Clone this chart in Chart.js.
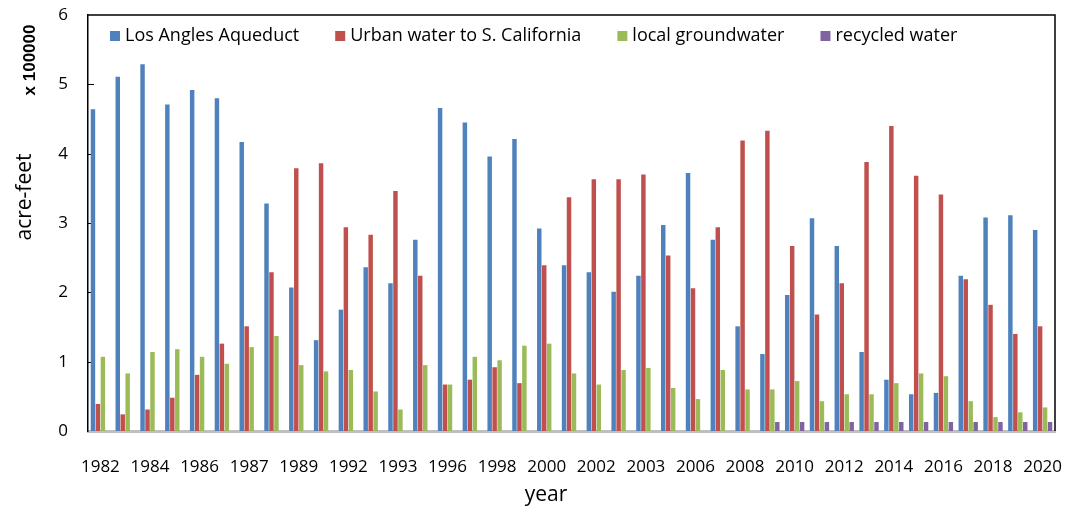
<!DOCTYPE html>
<html>
<head>
<meta charset="utf-8">
<script src="https://cdn.jsdelivr.net/npm/chart.js@4.4.1/dist/chart.umd.min.js"></script>
<style>
  html, body { margin: 0; padding: 0; background: #fff; }
  #wrap { width: 1071px; height: 507px; }
</style>
</head>
<body>
<div id="wrap"><canvas id="water"></canvas></div>
<script>
// every other year label is shown on the axis (as in the original spreadsheet)
const YEARS = [
  "1982", "1983", "1984", "1985", "1986", "1986", "1987", "1988", "1989", "1990",
  "1992", "1992", "1993", "1994", "1996", "1997", "1998", "1999", "2000", "2001",
  "2002", "2002", "2003", "2004", "2006", "2007", "2008", "2009", "2010", "2011",
  "2012", "2013", "2014", "2015", "2016", "2017", "2018", "2019", "2020",
];

const LA_AQUEDUCT = [
  4.64, 5.11, 5.29, 4.71, 4.92, 4.80, 4.17, 3.28, 2.07, 1.31,
  1.75, 2.36, 2.13, 2.76, 4.66, 4.45, 3.96, 4.21, 2.92, 2.39,
  2.29, 2.01, 2.24, 2.97, 3.72, 2.76, 1.51, 1.11, 1.96, 3.07,
  2.67, 1.14, 0.74, 0.53, 0.55, 2.24, 3.08, 3.11, 2.90,
];

const URBAN_SOCAL = [
  0.39, 0.24, 0.31, 0.48, 0.81, 1.26, 1.51, 2.29, 3.79, 3.86,
  2.94, 2.83, 3.46, 2.24, 0.67, 0.74, 0.92, 0.69, 2.39, 3.37,
  3.63, 3.63, 3.70, 2.53, 2.06, 2.94, 4.19, 4.33, 2.67, 1.68,
  2.13, 3.88, 4.40, 3.68, 3.41, 2.19, 1.82, 1.40, 1.51,
];

const GROUNDWATER = [
  1.07, 0.83, 1.14, 1.18, 1.07, 0.97, 1.21, 1.37, 0.95, 0.86,
  0.88, 0.57, 0.31, 0.95, 0.67, 1.07, 1.02, 1.23, 1.26, 0.83,
  0.67, 0.88, 0.91, 0.62, 0.46, 0.88, 0.60, 0.60, 0.72, 0.43,
  0.53, 0.53, 0.69, 0.83, 0.79, 0.43, 0.20, 0.27, 0.34,
];

const RECYCLED = [
  null, null, null, null, null, null, null, null, null, null,
  null, null, null, null, null, null, null, null, null, null,
  null, null, null, null, null, null, null, 0.13, 0.13, 0.13,
  0.13, 0.13, 0.13, 0.13, 0.13, 0.13, 0.13, 0.13, 0.13,
];

const SERIES_NAMES = [
  "Los Angles Aqueduct",
  "Urban water to S. California",
  "local groundwater",
  "recycled water",
];

const SERIES_COLORS = ["#4F81BD", "#C0504D", "#9BBB59", "#8064A2"];

const FONT = "'Open Sans', 'DejaVu Sans', sans-serif";

// plot frame (top/right) and the small inward y tick marks
const framePlugin = {
  id: "frame",
  beforeDatasetsDraw(chart) {
    const { ctx, chartArea: a, scales } = chart;
    ctx.save();
    ctx.strokeStyle = "#000";
    ctx.lineWidth = 1.5;
    ctx.beginPath();
    ctx.moveTo(a.left, a.top);
    ctx.lineTo(a.right, a.top);
    ctx.lineTo(a.right, a.bottom);
    ctx.stroke();
    ctx.lineWidth = 1;
    scales.y.ticks.forEach((t) => {
      if (t.value <= 0 || t.value >= 6) return;
      const y = Math.round(scales.y.getPixelForValue(t.value)) + 0.5;
      ctx.beginPath();
      ctx.moveTo(a.left, y);
      ctx.lineTo(a.left + 6, y);
      ctx.stroke();
    });
    ctx.restore();
  },
};

// one-row legend inside the plot, upper left
const legendPlugin = {
  id: "insideLegend",
  afterDatasetsDraw(chart) {
    const { ctx, chartArea: a } = chart;
    ctx.save();
    ctx.font = "18px " + FONT;
    ctx.textBaseline = "middle";
    ctx.textAlign = "left";
    let x = a.left + 22;
    const y = a.top + 21;
    chart.data.datasets.forEach((ds) => {
      ctx.fillStyle = ds.backgroundColor;
      ctx.fillRect(x, y - 5, 10, 10);
      ctx.fillStyle = "#000";
      ctx.fillText(ds.label, x + 15, y);
      x += 15 + ctx.measureText(ds.label).width + 36;
    });
    ctx.restore();
  },
};

// axis titles, placed like the original figure
const titlesPlugin = {
  id: "titles",
  afterDraw(chart) {
    const { ctx } = chart;
    ctx.save();
    ctx.fillStyle = "#000";
    ctx.textAlign = "center";
    ctx.textBaseline = "middle";

    ctx.font = "21px " + FONT;
    ctx.fillText("year", 546, 495);

    ctx.save();
    ctx.translate(25, 197);
    ctx.rotate(-Math.PI / 2);
    ctx.fillText("acre-feet", 0, 0);
    ctx.restore();

    ctx.save();
    ctx.translate(30, 60);
    ctx.rotate(-Math.PI / 2);
    ctx.font = "bold 17px 'Liberation Sans', Arial, sans-serif";
    ctx.fillText("x 100000", 0, 0);
    ctx.restore();

    ctx.restore();
  },
};

function makeDatasets() {
  const values = [LA_AQUEDUCT, URBAN_SOCAL, GROUNDWATER, RECYCLED];
  return values.map((data, i) => ({
    label: SERIES_NAMES[i],
    data: data,
    backgroundColor: SERIES_COLORS[i],
    borderWidth: 0,
  }));
}

const ctx = document.getElementById("water");
const myChart = new Chart(ctx, {
  type: "bar",
  data: {
    labels: YEARS,
    datasets: makeDatasets(),
  },
  options: {
    responsive: true,
    maintainAspectRatio: false,
    animation: false,
    layout: {
      padding: { left: 30, top: 15, right: 16, bottom: 0 },
    },
    plugins: {
      tooltip: { enabled: false },
      legend: { display: false },
    },
    scales: {
      x: {
        grid: { display: false, drawTicks: false },
        border: { display: true, color: "#BFBFBF", width: 3 },
        ticks: {
          autoSkip: false,
          maxRotation: 0,
          padding: 26,
          color: "#000",
          font: { family: FONT, size: 17 },
          callback: function (val, idx) {
            return idx % 2 === 0 ? this.getLabelForValue(val) : "";
          },
        },
        afterFit(scale) {
          scale.height = 76;
          scale.paddingLeft = 0;
          scale.paddingRight = 0;
        },
      },
      y: {
        min: 0,
        max: 6,
        grid: { display: false, drawTicks: false },
        border: { display: true, color: "#000", width: 1.5 },
        ticks: {
          stepSize: 1,
          padding: 20,
          color: "#000",
          font: { family: FONT, size: 17 },
        },
        afterFit(scale) {
          scale.width = 58;
          scale.paddingTop = 0;
          scale.paddingBottom = 0;
        },
      },
    },
  },
  plugins: [framePlugin, legendPlugin, titlesPlugin],
});
</script>
</body>
</html>
